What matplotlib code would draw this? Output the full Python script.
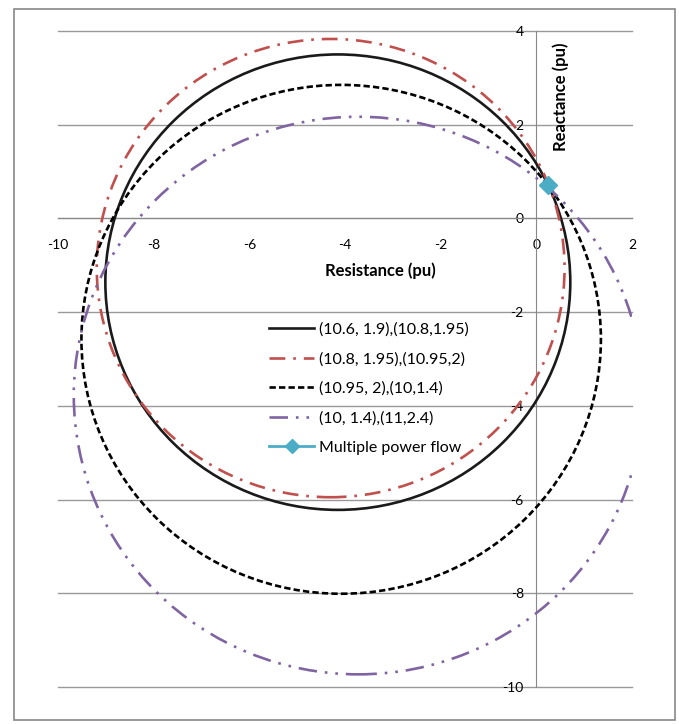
"""
    Power flow solution circles in the impedance plane
"""
import matplotlib.pyplot as plt
from matplotlib.patches import Circle, Rectangle
from matplotlib.lines import Line2D

#labels of the four circles
labels = ["(10.6, 1.9),(10.8,1.95)", "(10.8, 1.95),(10.95,2)",
          "(10.95, 2),(10,1.4)", "(10, 1.4),(11,2.4)"]
#centres (resistance, reactance) and radius of every circle
centre_r = [-4.15, -4.30, -4.08, -3.72]
centre_x = [-1.36, -1.06, -2.58, -3.78]
radius = [4.86, 4.89, 5.43, 5.95]
#the point found by the multiple power flow
mpf_r = [0.25]
mpf_x = [0.71]
mpf_label = "Multiple power flow"

colors = ["#1a1a1a", "#c0504d", "#000000", "#8064a2"]
styles = ["-", (0, (6, 3, 1, 3)), (0, (2.4, 1.2)), (0, (7, 3, 1, 3, 1, 3))]

plt.rcParams['font.family'] = ['Lato', 'DejaVu Sans']
fig = plt.figure(figsize=(6.79, 7.24), dpi=100)
ax = fig.add_axes([58/679, 1 - 687/724, 574/679, 656/724])

#outer chart border
fig.patches.append(Rectangle((14/679, 4/724), 661/679, 711/724, transform=fig.transFigure,
                             fill=False, edgecolor="#888888", linewidth=1.2))

handles = []
for i in range(len(labels)):
    ax.add_patch(Circle((centre_r[i], centre_x[i]), radius[i], fill=False,
                        edgecolor=colors[i], linestyle=styles[i], linewidth=1.9, zorder=3))
    handles.append(Line2D([], [], color=colors[i], linestyle=styles[i], linewidth=1.9))

ax.plot(mpf_r, mpf_x, marker="D", color="#4bacc6", markersize=9, linestyle="none", zorder=4)
handles.append(Line2D([], [], color="#4bacc6", marker="D", markersize=7, linewidth=2.0))

ax.set_xlim(-10, 2)
ax.set_ylim(-10, 4)
ax.set_xticks(range(-10, 3, 2))
ax.set_yticks(range(-10, 5, 2))
ax.set_xticklabels([str(t) for t in range(-10, 3, 2)], fontsize=11)
ax.set_yticklabels([str(t) for t in range(-10, 5, 2)], fontsize=11)

#axes crossing at the origin, excel style
for side in ["top", "right"]:
    ax.spines[side].set_visible(False)
ax.spines["left"].set_position(("data", 0))
ax.spines["bottom"].set_position(("data", 0))
ax.spines["left"].set_color("#888888")
ax.spines["bottom"].set_color("#888888")
ax.tick_params(axis="x", length=0, pad=15)
ax.tick_params(axis="y", length=0, pad=9)
ax.yaxis.grid(True, color="#999999", linewidth=1.0)
for line in ax.get_ygridlines():
    line.set_clip_on(False)
ax.set_axisbelow(True)

fig.text(380/679, 1 - 271/724, "Resistance (pu)", ha="center", va="center",
         fontsize=12, fontweight="bold")
fig.text(561/679, 1 - 97/724, "Reactance (pu)", ha="center", va="center",
         fontsize=12, fontweight="bold", rotation=90)

ax.legend(handles, labels + [mpf_label], loc="upper left",
          bbox_to_anchor=(255/679, 1 - 308/724), bbox_transform=fig.transFigure,
          frameon=False, fontsize=11.5, handlelength=2.8, handletextpad=0.3,
          labelspacing=0.95)

plt.savefig("out.png", dpi=100)
